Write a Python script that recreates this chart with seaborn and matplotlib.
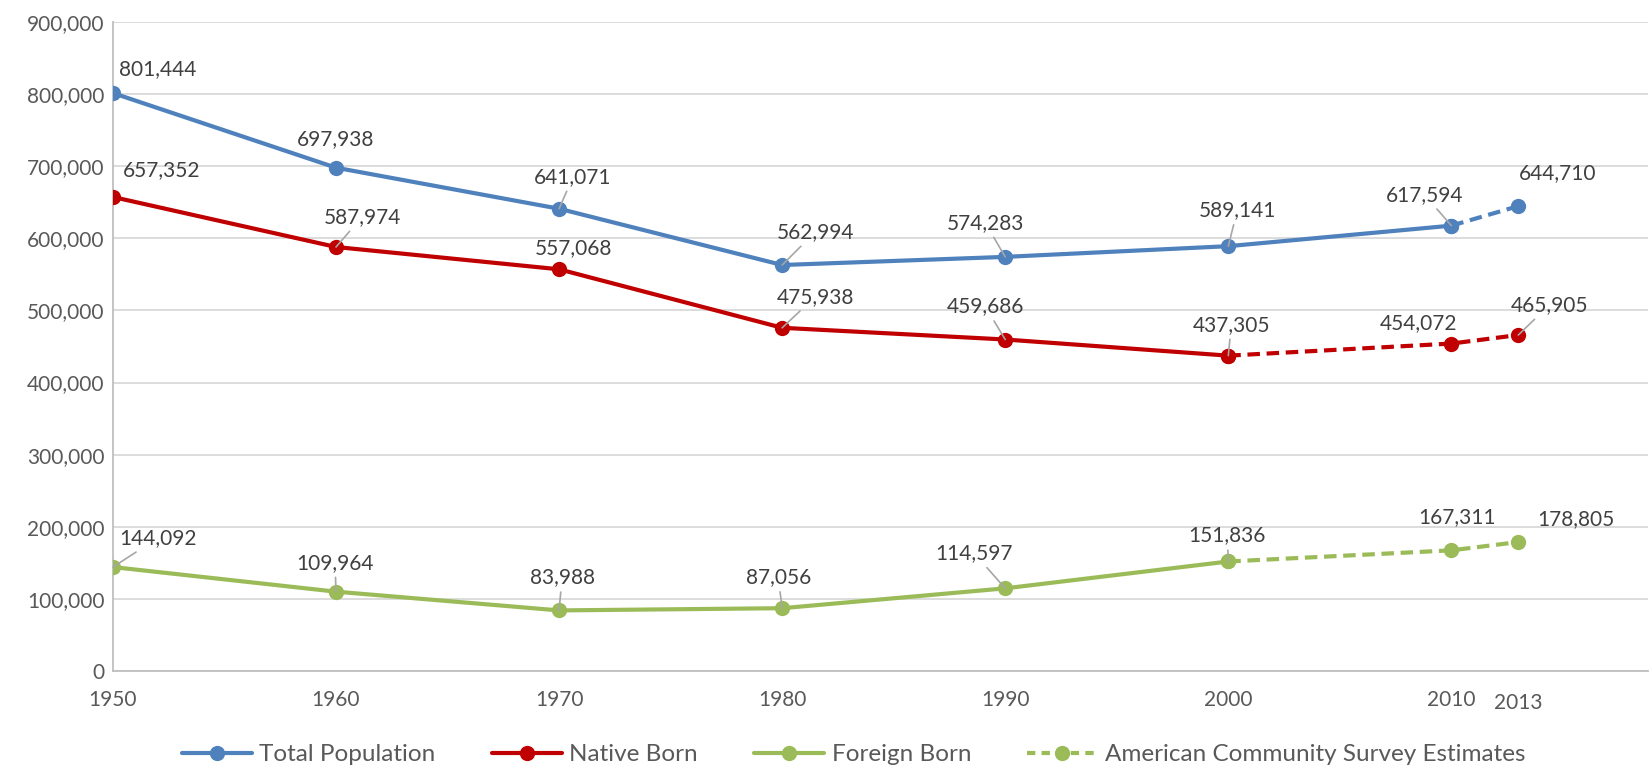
import matplotlib
matplotlib.use("Agg")
import matplotlib.pyplot as plt
from matplotlib.lines import Line2D
import seaborn as sns
import pandas as pd

# data
years = [1950, 1960, 1970, 1980, 1990, 2000, 2010, 2013]
total = [801444, 697938, 641071, 562994, 574283, 589141, 617594, 644710]
native = [657352, 587974, 557068, 475938, 459686, 437305, 454072, 465905]
foreign = [144092, 109964, 83988, 87056, 114597, 151836, 167311, 178805]
# index where ACS estimates start (dashed from this point on)
acs_start = {"Total Population": 6, "Native Born": 5, "Foreign Born": 5}

colors = {"Total Population": "#4f81bd", "Native Born": "#c00000", "Foreign Born": "#9bbb59"}
series = {"Total Population": total, "Native Born": native, "Foreign Born": foreign}

# label offsets in pixels (dx, dy) and alignment
label_pos = {
    "Total Population": [(6, -24, "left"), (0, -29, "center"), (14, -32, "center"), (33, -33, "center"),
                         (-20, -34, "center"), (9, -36, "center"), (-27, -31, "center"), (39, -33, "center")],
    "Native Born": [(10, -27, "left"), (26, -30, "center"), (14, -21, "center"), (33, -31, "center"),
                    (-20, -33, "center"), (3, -31, "center"), (-33, -20, "center"), (31, -30, "center")],
    "Foreign Born": [(6, -29, "left"), (-1, -29, "center"), (3, -33, "center"), (-4, -31, "center"),
                     (-31, -35, "center"), (-1, -26, "center"), (6, -33, "center"), (58, -23, "center")],
}
leaders = {
    "Total Population": [0, 0, 1, 1, 1, 1, 1, 0],
    "Native Born": [0, 1, 0, 1, 1, 1, 0, 1],
    "Foreign Born": [1, 1, 1, 1, 1, 1, 0, 0],
}

sns.set_style("white")
plt.rcParams["font.family"] = ["Lato", "DejaVu Sans"]
txt = "#595959"

fig = plt.figure(figsize=(16.51, 7.67), dpi=100)
ax = fig.add_axes([0.0684, 0.1252, 0.9296, 0.8461])

for name, vals in series.items():
    df = pd.DataFrame({"year": years, "value": vals})
    s = acs_start[name]
    c = colors[name]
    sns.lineplot(data=df.iloc[:s + 1], x="year", y="value", ax=ax, color=c, lw=3,
                 marker="o", markersize=11, markeredgewidth=0, zorder=3)
    sns.lineplot(data=df.iloc[s:], x="year", y="value", ax=ax, color=c, lw=3,
                 linestyle=(0, (3, 1.6)), marker="o", markersize=11, markeredgewidth=0, zorder=3)
    for i, (x, y) in enumerate(zip(years, vals)):
        dx, dy, ha = label_pos[name][i]
        kw = {}
        if leaders[name][i]:
            kw["arrowprops"] = dict(arrowstyle="-", color="#a6a6a6", lw=1.2, shrinkA=1, shrinkB=0)
        ax.annotate(f"{y:,}", (x, y), xytext=(dx, -dy), textcoords="offset pixels",
                    ha=ha, va="center", fontsize=15, color="#404040", zorder=4, **kw)

ax.set_xlim(1950, 2018.8)
ax.set_ylim(0, 900000)
ax.set_yticks(range(0, 900001, 100000))
ax.set_yticklabels([f"{v:,}" for v in range(0, 900001, 100000)])
ax.set_xticks(years)
ax.set_xticklabels([str(y) for y in years])
ax.tick_params(axis="both", labelsize=15, colors=txt, length=0)
ax.tick_params(axis="y", pad=6)
ax.tick_params(axis="x", pad=14)
for lab in ax.get_xticklabels():
    if lab.get_text() == "2013":
        lab.set_y(-0.004)
ax.grid(axis="y", color="#d9d9d9", lw=1.3)
ax.set_axisbelow(True)
ax.set_xlabel("")
ax.set_ylabel("")
for side in ["top", "right"]:
    ax.spines[side].set_visible(False)
ax.spines["left"].set_color("#bfbfbf")
ax.spines["bottom"].set_color("#bfbfbf")
ax.spines["left"].set_linewidth(1.3)
ax.spines["bottom"].set_linewidth(1.3)

handles = [Line2D([], [], color=colors["Total Population"], lw=3, marker="o", markersize=11, markeredgewidth=0),
           Line2D([], [], color=colors["Native Born"], lw=3, marker="o", markersize=11, markeredgewidth=0),
           Line2D([], [], color=colors["Foreign Born"], lw=3, marker="o", markersize=11, markeredgewidth=0),
           Line2D([], [], color=colors["Foreign Born"], lw=3, linestyle=(0, (2, 1.5)), marker="o",
                  markersize=11, markeredgewidth=0)]
labels = ["Total Population", "Native Born", "Foreign Born", "American Community Survey Estimates"]
fig.legend(handles, labels, loc="center", bbox_to_anchor=(0.517, 0.016), ncol=4, frameon=False,
           fontsize=17.5, labelcolor=txt, handlelength=2.9, handletextpad=0.3, columnspacing=2.3,
           borderpad=0.1)

fig.savefig("out.png", dpi=100)
